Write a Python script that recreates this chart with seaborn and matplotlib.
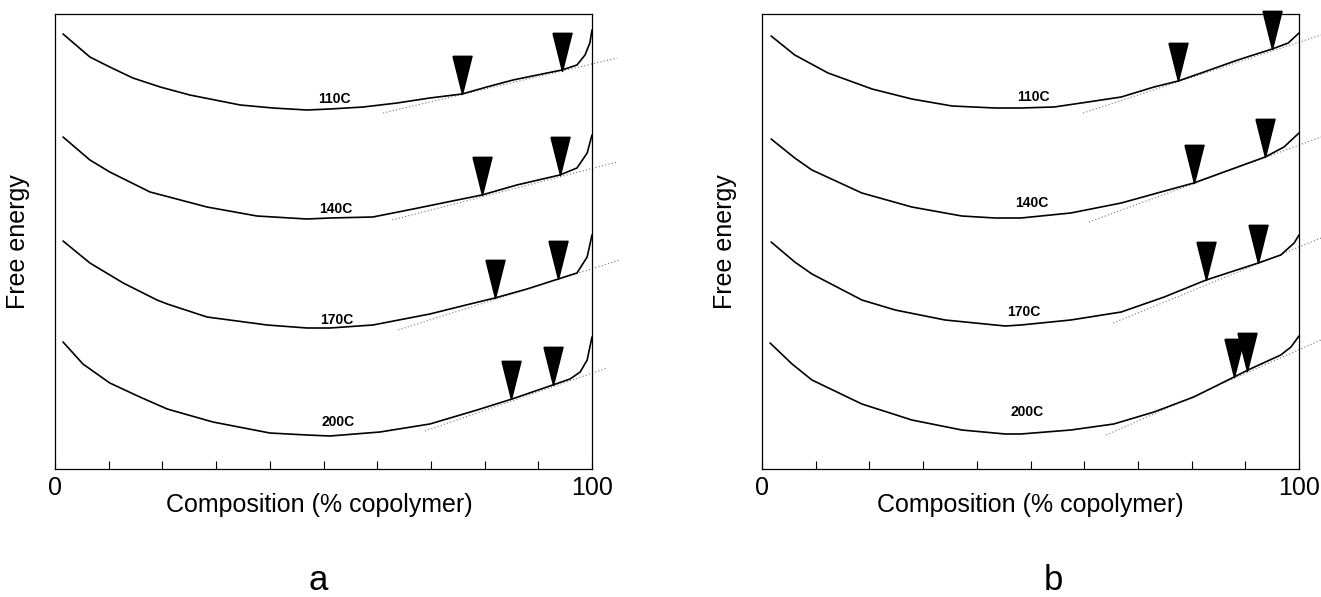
import numpy as np
import pandas as pd
import seaborn as sns
import matplotlib
matplotlib.use('Agg')
import matplotlib.pyplot as plt

# temperaturas das curvas
temps = ['110C', '140C', '170C', '200C']

# painel a - curvas de energia livre (composicao %, energia livre arb.)
a110_x = [1.5, 6.5, 10.2, 14.5, 19.6, 25.1, 34.5, 40.6, 46.9, 51.2, 57.4, 63.7, 69.8, 75.8, 80.4, 85.3, 89.8, 94.4, 97.2, 98.7, 99.6, 100]
a110_y = [435, 412, 402, 391, 382, 374, 364, 361, 359, 360, 362, 366, 371, 375, 382, 389, 394, 399, 404, 414, 426, 439]
a140_x = [1.5, 6.5, 10.2, 17.7, 28.3, 37.6, 46.9, 51.2, 59.2, 66.7, 74.9, 79.5, 86.0, 94.0, 97.2, 99.1, 100]
a140_y = [332, 309, 297, 277, 262, 253, 250, 251, 252, 260, 269, 274, 284, 294, 301, 316, 334]
a170_x = [1.5, 6.5, 12.7, 19.0, 20.9, 28.3, 39.5, 46.9, 51.2, 59.2, 69.8, 77.3, 81.9, 87.9, 93.7, 97.2, 99.1, 100]
a170_y = [228, 206, 186, 169, 165, 152, 144, 141, 141, 144, 155, 165, 171, 180, 190, 196, 212, 234]
a200_x = [1.5, 5.2, 10.2, 15.8, 20.9, 29.4, 40.0, 46.9, 51.2, 60.5, 69.8, 78.6, 85.1, 92.7, 95.9, 97.8, 99.1, 100]
a200_y = [127, 105, 86, 72, 60, 47, 36, 34, 33, 37, 45, 59, 70, 84, 90, 97, 109, 132]

# painel b
b110_x = [1.7, 6.1, 12.3, 20.5, 27.9, 35.4, 43.4, 48.2, 54.4, 60.7, 66.9, 73.0, 77.5, 82.3, 88.6, 95.0, 98.0, 100]
b110_y = [433, 414, 396, 380, 370, 363, 361, 361, 362, 367, 372, 382, 388, 397, 409, 420, 426, 436]
b140_x = [1.7, 6.1, 9.3, 18.6, 27.9, 37.2, 43.4, 48.2, 57.5, 66.9, 74.3, 80.4, 85.5, 93.7, 97.2, 100]
b140_y = [330, 311, 299, 276, 262, 253, 251, 251, 256, 266, 277, 286, 296, 312, 322, 336]
b170_x = [1.7, 6.1, 9.3, 18.6, 24.8, 34.1, 45.3, 48.2, 57.5, 66.9, 74.9, 82.7, 92.4, 96.6, 99.1, 100]
b170_y = [227, 207, 195, 169, 159, 149, 143, 144, 149, 157, 172, 189, 206, 214, 226, 234]
b200_x = [1.5, 5.6, 9.3, 18.6, 27.9, 37.2, 45.3, 48.2, 57.5, 65.5, 73.0, 80.4, 87.9, 90.5, 96.6, 98.5, 100]
b200_y = [126, 105, 89, 65, 49, 39, 35, 35, 39, 45, 57, 72, 92, 99, 114, 122, 133]

# setas (triangulos) - pontos de tangencia
a_tri1_x = [75.8, 79.5, 81.9, 84.9]
a_tri1_y = [375, 274, 171, 70]
a_tri2_x = [94.4, 94.0, 93.7, 92.7]
a_tri2_y = [398, 294, 190, 84]
b_tri1_x = [77.5, 80.4, 82.7, 87.9]
b_tri1_y = [388, 286, 189, 92]
b_tri2_x = [95.0, 93.7, 92.4, 90.3]
b_tri2_y = [420, 312, 206, 98]

# tangentes comuns (pontilhadas)
a_tan_x0 = [61.1, 62.8, 63.9, 68.9]
a_tan_y0 = [356, 249, 139, 38]
a_tan_x1 = [104.7, 104.7, 105.2, 102.8]
a_tan_y1 = [411, 307, 209, 101]
b_tan_x0 = [59.8, 60.9, 65.4, 64.1]
b_tan_y0 = [356, 247, 146, 34]
b_tan_x1 = [104.1, 104.1, 104.1, 104.1]
b_tan_y1 = [434, 332, 231, 129]

# posicao dos rotulos de temperatura
a_lab_x = [52.1, 52.3, 52.5, 52.7]
a_lab_y = [370, 260, 149, 47]
b_lab_x = [50.5, 50.3, 48.8, 49.3]
b_lab_y = [372, 266, 157, 57]


def long_df(xs, ys):
    frames = []
    for t, x, y in zip(temps, xs, ys):
        frames.append(pd.DataFrame({'x': x, 'y': y, 'temp': t}))
    return pd.concat(frames, ignore_index=True)


curves_a = long_df([a110_x, a140_x, a170_x, a200_x], [a110_y, a140_y, a170_y, a200_y])
curves_b = long_df([b110_x, b140_x, b170_x, b200_x], [b110_y, b140_y, b170_y, b200_y])

sns.set_style('white')
plt.rcParams['font.family'] = ['Liberation Sans', 'DejaVu Sans']
plt.rcParams['text.color'] = 'black'
plt.rcParams['axes.labelcolor'] = 'black'
plt.rcParams['xtick.color'] = 'black'

W, H = 1321, 597
fig = plt.figure(figsize=(W / 100, H / 100), dpi=100)
ax_a = fig.add_axes([55 / W, 1 - 469 / H, 537 / W, 455 / H])
ax_b = fig.add_axes([762 / W, 1 - 469 / H, 537 / W, 455 / H])

# triangulo fino apontando para baixo, ponta no ponto
tri = [(-0.25, 1.0), (0.25, 1.0), (0.0, 0.0), (-0.25, 1.0)]

panels = [
    (ax_a, curves_a, a_tri1_x, a_tri1_y, a_tri2_x, a_tri2_y,
     a_tan_x0, a_tan_y0, a_tan_x1, a_tan_y1, a_lab_x, a_lab_y, 'a', 318, 0.493),
    (ax_b, curves_b, b_tri1_x, b_tri1_y, b_tri2_x, b_tri2_y,
     b_tan_x0, b_tan_y0, b_tan_x1, b_tan_y1, b_lab_x, b_lab_y, 'b', 1053, 0.499),
]

for (ax, df, t1x, t1y, t2x, t2y, tx0, ty0, tx1, ty1, lx, ly, letter, letter_x, xl_pos) in panels:
    sns.lineplot(data=df, x='x', y='y', units='temp', estimator=None, sort=False,
                 color='black', linewidth=1.2, ax=ax)
    for ln in ax.get_lines():
        ln.set_solid_joinstyle('round')

    for i in range(len(temps)):
        ax.plot([tx0[i], tx1[i]], [ty0[i], ty1[i]], color='#777777', lw=0.8,
                linestyle=(0, (1, 2)), clip_on=False, zorder=1)
        ax.text(lx[i], ly[i], temps[i], ha='center', va='center',
                fontsize=10, fontweight='bold', color='black')

    ax.plot(t1x, t1y, linestyle='none', marker=tri, ms=55, color='black',
            clip_on=False, zorder=3)
    ax.plot(t2x, t2y, linestyle='none', marker=tri, ms=55, color='black',
            clip_on=False, zorder=3)

    ax.set_xlim(0, 100)
    ax.set_ylim(0, 455)
    ax.set_xticks([0, 100])
    ax.set_xticklabels(['0', '100'], fontsize=18)
    ax.set_xticks(range(10, 100, 10), minor=True)
    ax.tick_params(axis='x', which='both', direction='in', length=6, width=0.8,
                   pad=5, bottom=True, top=False, colors='black')
    ax.set_yticks([])
    ax.set_xlabel('')
    ax.set_ylabel('')
    for s in ax.spines.values():
        s.set_linewidth(0.9)
        s.set_color('black')

    ax.text(xl_pos, -0.079, 'Composition (% copolymer)', transform=ax.transAxes,
            ha='center', va='center', fontsize=18, color='black')
    ax.text(-0.068, 0.5, 'Free energy', transform=ax.transAxes, rotation=90,
            ha='center', va='center', fontsize=18, color='black')
    fig.text(letter_x / W, 1 - 580 / H, letter, ha='center', va='center',
             fontsize=25, color='black')

fig.savefig('out.png', dpi=100)
